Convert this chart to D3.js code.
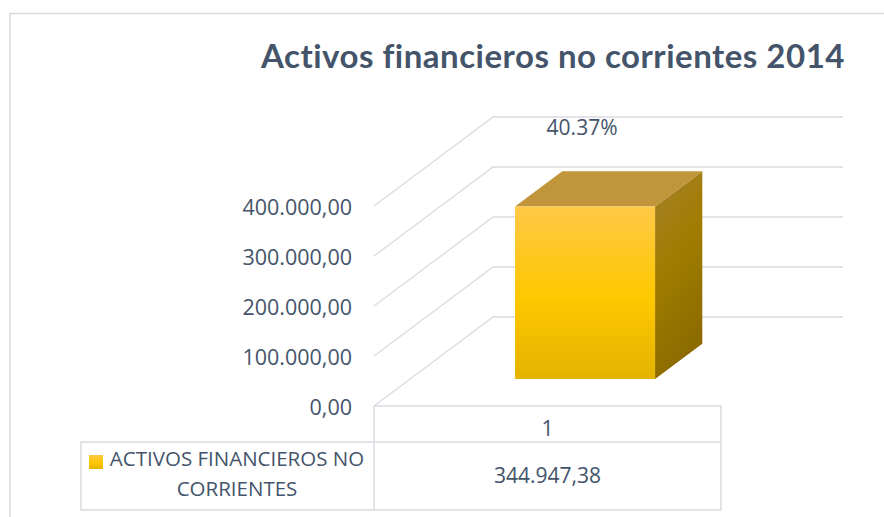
<!DOCTYPE html>
<html><head><meta charset="utf-8">
<script src="https://cdn.jsdelivr.net/npm/d3@7"></script>
<style>html,body{margin:0;padding:0;background:#fff;}</style>
</head><body>
<svg id="chart" width="884" height="517"></svg>
<script>
const title = "Activos financieros no corrientes 2014";
const categories = ["1"];
const seriesName = "ACTIVOS FINANCIEROS NO CORRIENTES";
const values = [344947.38];
const valueLabels = ["344.947,38"];
const dataLabels = ["40.37%"];
const tickValues = [0, 100000, 200000, 300000, 400000];

const W = 884, H = 517;
const svg = d3.select("#chart");
const textColor = "#44546A";
const gridColor = "#D9DCE1";
const font = "'Open Sans', 'Liberation Sans', sans-serif";

// chart border
svg.append("path").attr("d", `M10,${H}V13.5H${W}`).attr("fill","none")
  .attr("stroke","#D9D9D9").attr("stroke-width",1.5);

// title
svg.append("text").attr("x", 553).attr("y", 68).attr("text-anchor","middle")
  .attr("font-family","Lato, 'Open Sans', sans-serif").attr("font-weight","bold")
  .attr("font-size", 33).attr("letter-spacing", 0.5).attr("fill", textColor).text(title);

// 3D geometry: back plane + oblique depth
const backLeft = 493, backRight = 843;
const depthDX = -119, depthDY = 89; // offset from back (f=0) to front (f=1)
const y = d3.scaleLinear().domain([0, 400000]).range([317, 117]);
const x = d3.scaleBand().domain(categories).range([backLeft, backRight])
  .paddingInner(0).paddingOuter(0.75);
const proj = (px, py, f) => [px + depthDX * f, py + depthDY * f];

// gridlines
const grid = svg.append("g");
tickValues.forEach(t => {
  const yb = y(t);
  const fr = proj(backLeft, yb, 1);
  grid.append("path")
    .attr("d", `M${fr[0]},${fr[1]}L${backLeft},${yb}H${backRight}`)
    .attr("fill","none").attr("stroke", gridColor).attr("stroke-width", 1.3);
});

// tick labels (front edge)
const fmt = v => d3.format(",.2f")(v).replace(/,/g,"#").replace(".",",").replace(/#/g,".");
const axisG = svg.append("g");
tickValues.forEach(t => {
  const fr = proj(backLeft, y(t), 1);
  axisG.append("text").attr("x", 352).attr("y", fr[1] + 3)
    .attr("text-anchor","end").attr("dominant-baseline","middle")
    .attr("font-family", font).attr("font-size", 21.5).attr("fill", textColor)
    .text(fmt(t));
});

// gradients
const defs = svg.append("defs");
const gF = defs.append("linearGradient").attr("id","gFront").attr("x1",0).attr("y1",0).attr("x2",0).attr("y2",1);
gF.append("stop").attr("offset","0%").attr("stop-color","#FFC846");
gF.append("stop").attr("offset","52%").attr("stop-color","#FFC800");
gF.append("stop").attr("offset","100%").attr("stop-color","#E5B300");
const gS = defs.append("linearGradient").attr("id","gSide").attr("x1",0).attr("y1",0).attr("x2",0.3).attr("y2",1);
gS.append("stop").attr("offset","0%").attr("stop-color","#A8812C");
gS.append("stop").attr("offset","50%").attr("stop-color","#A07C00");
gS.append("stop").attr("offset","100%").attr("stop-color","#8C6B00");

// bar
const fBack = 0.30, fFront = 0.697;
const bars = svg.append("g");
categories.forEach((c, i) => {
  const x0 = x(c), x1 = x(c) + x.bandwidth();
  const yt = y(values[i]), yb = y(0);
  const P = (px, py, f) => proj(px, py, f).join(",");
  bars.append("path").attr("d",
    `M${P(x1,yt,fFront)}L${P(x1,yt,fBack)}L${P(x1,yb,fBack)}L${P(x1,yb,fFront)}Z`)
    .attr("fill","url(#gSide)");
  bars.append("path").attr("d",
    `M${P(x0,yt,fFront)}L${P(x0,yt,fBack)}L${P(x1,yt,fBack)}L${P(x1,yt,fFront)}Z`)
    .attr("fill","#C1963A");
  const a = proj(x0, yt, fFront), b = proj(x1, yb, fFront);
  bars.append("rect").attr("x", a[0]).attr("y", a[1]).attr("width", b[0]-a[0]).attr("height", b[1]-a[1])
    .attr("fill","url(#gFront)");
  bars.append("text").attr("x", (a[0]+b[0])/2 - 3).attr("y", a[1] - 77)
    .attr("text-anchor","middle").attr("dominant-baseline","middle")
    .attr("font-family", font).attr("font-size", 21).attr("fill", textColor)
    .text(dataLabels[i]);
});

// data table
const tLeft = 81, tMid = proj(backLeft, 0, 1)[0], tRight = 721;
const r0 = 406, r1 = 442, r2 = 510;
const tbl = svg.append("g").attr("fill","none").attr("stroke", gridColor).attr("stroke-width", 1.5);
tbl.append("path").attr("d", `M${tMid},${r0}H${tRight}V${r2}H${tLeft}V${r1}H${tRight}M${tMid},${r0}V${r2}`);
categories.forEach((c, i) => {
  svg.append("text").attr("x", (tMid + tRight)/2).attr("y", 430)
    .attr("text-anchor","middle").attr("dominant-baseline","middle")
    .attr("font-family", font).attr("font-size", 21).attr("fill", textColor).text(c);
  svg.append("text").attr("x", (tMid + tRight)/2).attr("y", (r1 + r2)/2 + 1)
    .attr("text-anchor","middle").attr("dominant-baseline","middle")
    .attr("font-family", font).attr("font-size", 21).attr("fill", textColor).text(valueLabels[i]);
});
// legend key + series name
svg.append("rect").attr("x", 89).attr("y", 455).attr("width", 14).attr("height", 14).attr("fill","url(#gFront)");
const nameParts = ["ACTIVOS FINANCIEROS NO", "CORRIENTES"];
nameParts.forEach((t, k) => {
  svg.append("text").attr("x", 237).attr("y", 461 + k * 30)
    .attr("text-anchor","middle").attr("dominant-baseline","middle")
    .attr("font-family", font).attr("font-size", 20.5).attr("fill", textColor).text(t);
});
</script>
</body></html>
